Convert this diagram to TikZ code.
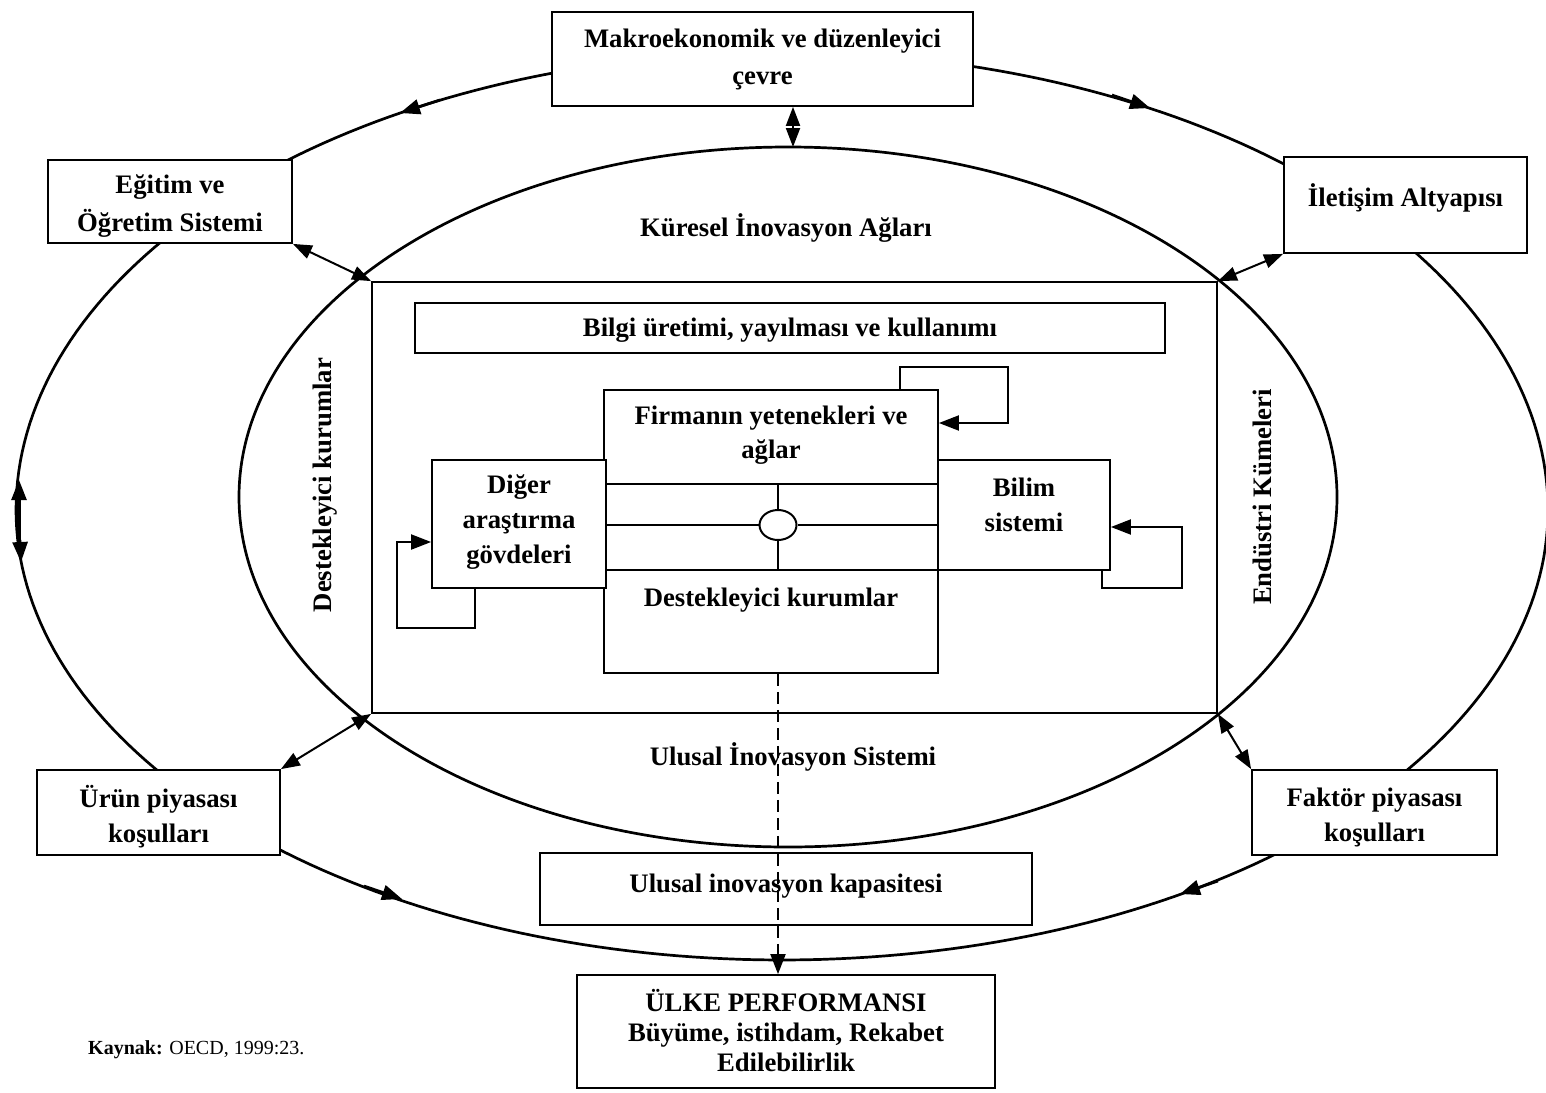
\documentclass[tikz,border=0pt]{standalone}
\usepackage{fontspec}
\setmainfont{Liberation Serif}
\usetikzlibrary{arrows.meta,shapes.geometric}

\begin{document}
\begin{tikzpicture}[x=1pt,y=-1pt,
  txt/.style={font=\bfseries\fontsize{26.7}{36}\selectfont, align=center, inner sep=0pt},
  box/.style={draw, line width=1.8pt, fill=white, inner sep=0pt},
  ring/.style={line width=2.7pt, line join=round},
  tri/.style={-{Triangle[length=20pt,width=15pt]}, line width=2.7pt},
  dbl/.style={{Triangle[length=19pt,width=14pt]}-{Triangle[length=19pt,width=14pt]}, line width=2pt},
  loopline/.style={-{Triangle[length=20pt,width=15pt]}, line width=2pt},
]
\useasboundingbox (0,0) rectangle (1546,1092);
\clip (0,0) rectangle (1546,1092);

% outer ring of the framework conditions: upper and lower half-ellipses
\draw[ring] plot[domain=0:180, samples=150] ({782+766*cos(\x)},{510-458*sin(\x)})
  -- plot[domain=180:360, samples=150] ({782+766*cos(\x)},{510-450*sin(\x)}) -- cycle;

% inner ring: national innovation system
\draw[ring] (788,497) ellipse [x radius=549, y radius=350];
\coordinate (ktop) at (793,147);

% arrowheads along the outer ring
\draw[tri] (440,100) -- (400,113);
\draw[tri] (1112,95) -- (1150,108);
\draw[line width=3.6pt] (19,490) -- (19,550);
\draw[tri] (19,500) -- (19,480);
\draw[tri] (20,540) -- (21,562);
\draw[tri] (364,886) -- (402,899);
\draw[tri] (1218,881) -- (1180,894);

% outer boxes
\node[box, minimum width=421, minimum height=94] (makro) at (762.5,59) {};
\node[txt] (makrot) at (762.5,59) {Makroekonomik ve düzenleyici\\[1pt]çevre};
\node[box, minimum width=244, minimum height=83] (egitim) at (170,201.5) {};
\node[txt] (egitimt) at (170,206) {Eğitim ve\\[2pt]Öğretim Sistemi};
\node[box, minimum width=243, minimum height=96] (iletisim) at (1405.5,205) {};
\node[txt] (iletisimt) at (1405.5,198) {İletişim Altyapısı};
\node[box, minimum width=243, minimum height=85] (urun) at (158.5,812.5) {};
\node[txt] (urunt) at (158.5,817) {Ürün piyasası\\[-1pt]koşulları};
\node[box, minimum width=245, minimum height=85] (faktor) at (1374.5,812.5) {};
\node[txt] (faktort) at (1374.5,817) {Faktör piyasası\\[-1pt]koşulları};

% inner frame
\node[box, minimum width=845, minimum height=431] (nis) at (794.5,497.5) {};
\node[txt] (kuresel) at (786,228) {Küresel İnovasyon Ağları};
\node[txt] (ulusal) at (793,757) {Ulusal İnovasyon Sistemi};
\node[txt, rotate=90] (dk) at (325,485) {Destekleyici kurumlar};
\node[txt, rotate=90] (ek) at (1262,497) {Endüstri Kümeleri};

\node[box, minimum width=750, minimum height=50] (bilgi) at (790,328) {};
\node[txt] (bilgit) at (790,330) {Bilgi üretimi, yayılması ve kullanımı};

% actors of the system
\node[box, minimum width=334, minimum height=94] (firma) at (771,437) {};
\node[txt] (firmat) at (771,435) {Firmanın yetenekleri ve\\[-2pt]ağlar};
\node[box, minimum width=334, minimum height=103] (destek) at (771,621.5) {};
\node[txt] (destekt) at (771,600) {Destekleyici kurumlar};
\node[box, minimum width=174, minimum height=128] (diger) at (519,524) {};
\node[txt] (digert) at (519,522) {Diğer\\[-1pt]araştırma\\[-1pt]gövdeleri};
\node[box, minimum width=172, minimum height=110] (bilim) at (1024,515) {};
\node[txt] (bilimt) at (1024,505) {Bilim\\[-1pt]sistemi};

% central hub
\node[draw, line width=2pt, fill=white, ellipse, minimum width=37, minimum height=30, inner sep=0pt] (hub) at (778,525) {};
\draw[line width=2pt] (hub.north) -- (hub.north |- firma.south);
\draw[line width=2pt] (hub.south) -- (hub.south |- destek.north);
\draw[line width=2pt] (hub.west) -- (hub.west -| diger.east);
\draw[line width=2pt] (hub.east) -- (hub.east -| bilim.west);

% feedback loops
\draw[loopline] ([xshift=129pt]firma.north) |- (1008,367) |- ([yshift=14pt]firma.east);
\draw[loopline] ([xshift=-44pt]diger.south) |- (397,628) |- ([yshift=-18pt]diger.west);
\draw[loopline] ([xshift=78pt]bilim.south) |- (1182,588) |- ([yshift=-12pt]bilim.east);

% links between framework conditions and the system
\draw[dbl] (makro.south -| ktop) -- (ktop);
\draw[dbl] (egitim.south east) -- (nis.north west);
\draw[dbl] (iletisim.south west) -- (nis.north east);
\draw[dbl] (urun.north east) -- (nis.south west);
\draw[dbl] (faktor.north west) -- (nis.south east);

% national capacity and performance
\node[box, minimum width=492, minimum height=72] (kapasite) at (786,889) {};
\node[txt] (kapasitet) at (786,886) {Ulusal inovasyon kapasitesi};
\node[box, minimum width=418, minimum height=113] (ulke) at (786,1031.5) {};
\node[txt, font=\bfseries\fontsize{26.7}{30}\selectfont] (ulket) at (786,1031) {ÜLKE PERFORMANSI\\Büyüme, istihdam, Rekabet\\Edilebilirlik};
\draw[loopline, dash pattern=on 12pt off 6pt] (hub |- destek.south) -- (hub |- ulke.north);

\node[anchor=west, inner sep=0pt, font=\fontsize{20}{24}\selectfont] (kaynak) at (88,1050) {\textbf{Kaynak:} OECD, 1999:23.};
\end{tikzpicture}
\end{document}
